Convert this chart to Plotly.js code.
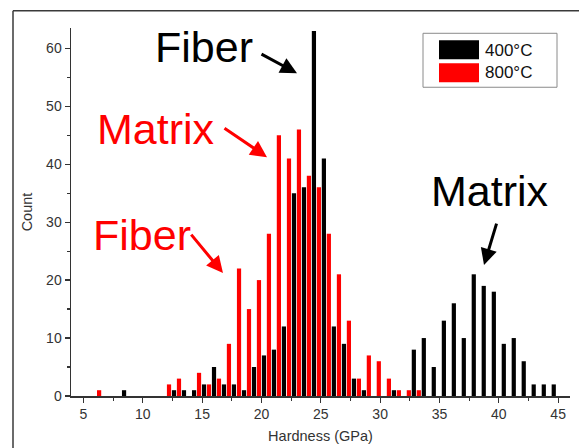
<!DOCTYPE html>
<html>
<head>
<meta charset="utf-8">
<script src="https://cdn.plot.ly/plotly-3.0.1.min.js"></script>
<style>html,body{margin:0;padding:0;background:#fff;}#chart{width:579px;height:448px;}</style>
</head>
<body>
<div id="chart"></div>
<script>
// Bin centres (GPa)
const binCenters = [6.53, 7.37, 8.21, 9.05, 9.90, 10.74, 11.58, 12.42, 13.26, 14.11,
  14.95, 15.79, 16.63, 17.47, 18.32, 19.16, 20.00, 20.84, 21.68, 22.53,
  23.37, 24.21, 25.05, 25.89, 26.74, 27.58, 28.42, 29.26, 30.10, 30.95,
  31.79, 32.63, 33.47, 34.31, 35.16, 36.00, 36.84, 37.68, 38.52, 39.37,
  40.21, 41.05, 41.89, 42.73, 43.58, 44.42];
// Counts, 400 °C
const count400 = [0, 0, 1, 0, 0, 0, 0, 1, 1, 1,
  2, 5, 2, 2, 1, 5, 7, 8, 12, 35,
  36, 63, 41, 12, 9, 3, 1, 0, 0, 1,
  0, 8, 10, 5, 13, 16, 10, 21, 19, 18,
  9, 10, 6, 2, 2, 2];
// Counts, 800 °C
const count800 = [1, 0, 0, 0, 0, 0, 0, 2, 3, 0,
  4, 2, 3, 9, 22, 15, 20, 28, 45, 41,
  46, 38, 36, 28, 21, 13, 3, 7, 6, 3,
  1, 1, 1, 0, 0, 0, 0, 0, 0, 0,
  0, 0, 0, 0, 0, 0];
const seriesNames = ['400°C', '800°C'];
const seriesColors = ['#000000', '#ff0000'];
const xTitle = 'Hardness (GPa)';
const yTitle = 'Count';
const labels = [
  {text: 'Fiber', color: '#000000'},
  {text: 'Matrix', color: '#ff0000'},
  {text: 'Fiber', color: '#ff0000'},
  {text: 'Matrix', color: '#000000'}
];

const FONT = 'Arial, "Liberation Sans", sans-serif';
const bw = 0.354;

const traces = [
  {type: 'bar', name: seriesNames[1], x: binCenters, y: count800, width: bw, offset: -0.388,
   marker: {color: seriesColors[1], line: {width: 0}}, hoverinfo: 'x+y'},
  {type: 'bar', name: seriesNames[0], x: binCenters, y: count400, width: bw, offset: 0.034,
   marker: {color: seriesColors[0], line: {width: 0}}, hoverinfo: 'x+y'}
];

function px2x(px) { return 3.95 + (px - 71) * 42.05 / 499; }
function py2y(py) { return (396 - py) * 63.5 / 368.3; }

const annotations = [
  {x: px2x(204), y: py2y(47), text: labels[0].text, font: {family: FONT, size: 43, color: labels[0].color}},
  {x: px2x(156), y: py2y(129), text: labels[1].text, font: {family: FONT, size: 43, color: labels[1].color}},
  {x: px2x(142), y: py2y(235), text: labels[2].text, font: {family: FONT, size: 43, color: labels[2].color}},
  {x: px2x(490), y: py2y(191), text: labels[3].text, font: {family: FONT, size: 43, color: labels[3].color}},
].map(a => Object.assign({xref: 'x', yref: 'y', showarrow: false, xanchor: 'center', yanchor: 'middle'}, a));

const arrows = [
  {x: px2x(297), y: py2y(73), ax: -37, ay: -20, c: '#000000'},
  {x: px2x(267), y: py2y(157), ax: -44, ay: -30, c: '#ff0000'},
  {x: px2x(223), y: py2y(273), ax: -33, ay: -40, c: '#ff0000'},
  {x: px2x(484), y: py2y(265), ax: 13, ay: -43, c: '#000000'}
];
arrows.forEach(a => annotations.push({
  xref: 'x', yref: 'y', x: a.x, y: a.y, ax: a.ax, ay: a.ay, text: '',
  showarrow: true, arrowhead: 2, arrowsize: 1.1, arrowwidth: 3, arrowcolor: a.c, standoff: 0
}));

function pxp(px) { return (px - 71) / 499; }
function pyp(py) { return (396 - py) / 368.3; }
annotations.push({xref: 'paper', yref: 'paper', x: pxp(483), y: pyp(50), xanchor: 'left', yanchor: 'middle',
  text: seriesNames[0], showarrow: false, font: {family: FONT, size: 17, color: '#111'}});
annotations.push({xref: 'paper', yref: 'paper', x: pxp(483), y: pyp(72), xanchor: 'left', yanchor: 'middle',
  text: seriesNames[1], showarrow: false, font: {family: FONT, size: 17, color: '#111'}});

const shapes = [
  {type: 'rect', xref: 'paper', yref: 'paper', x0: pxp(423), x1: pxp(557), y0: pyp(87), y1: pyp(33),
   line: {color: '#8a8a8a', width: 1}, fillcolor: 'rgba(255,255,255,1)', layer: 'above'},
  {type: 'rect', xref: 'paper', yref: 'paper', x0: pxp(439), x1: pxp(479), y0: pyp(59), y1: pyp(40),
   line: {width: 0}, fillcolor: seriesColors[0], layer: 'above'},
  {type: 'rect', xref: 'paper', yref: 'paper', x0: pxp(439), x1: pxp(479), y0: pyp(82), y1: pyp(63),
   line: {width: 0}, fillcolor: seriesColors[1], layer: 'above'},
  {type: 'line', xref: 'paper', yref: 'paper', x0: pxp(13), x1: pxp(600), y0: pyp(10.5), y1: pyp(10.5),
   line: {color: '#3a3a3a', width: 1.5}},
  {type: 'line', xref: 'paper', yref: 'paper', x0: pxp(13), x1: pxp(13), y0: pyp(10.5), y1: pyp(470),
   line: {color: '#3a3a3a', width: 1.5}}
];

const layout = {
  width: 579, height: 448,
  margin: {l: 71, r: 9, t: 28, b: 52, pad: 0},
  paper_bgcolor: '#ffffff', plot_bgcolor: '#ffffff',
  barmode: 'overlay',
  showlegend: false,
  font: {family: FONT, size: 14, color: '#333'},
  xaxis: {
    range: [3.95, 46], tickmode: 'linear', tick0: 5, dtick: 5,
    ticks: 'outside', ticklen: 5, tickwidth: 1.2, tickcolor: '#333',
    minor: {ticks: 'outside', dtick: 2.5, tick0: 2.5, ticklen: 3, tickwidth: 1.2, tickcolor: '#333', showgrid: false},
    showline: true, linecolor: '#333', linewidth: 1.5, showgrid: false, zeroline: false,
    tickfont: {family: FONT, size: 14, color: '#333'},
    title: {text: xTitle, font: {family: FONT, size: 14.5, color: '#333'}, standoff: 9}
  },
  yaxis: {
    range: [0, 63.5], tickmode: 'linear', tick0: 0, dtick: 10,
    ticks: 'outside', ticklen: 5, tickwidth: 1.2, tickcolor: '#333',
    minor: {ticks: 'outside', dtick: 5, tick0: 0, ticklen: 3, tickwidth: 1.2, tickcolor: '#333', showgrid: false},
    showline: true, linecolor: '#333', linewidth: 1.5, showgrid: false, zeroline: false,
    tickfont: {family: FONT, size: 14, color: '#333'},
    title: {text: yTitle, font: {family: FONT, size: 14.5, color: '#333'}, standoff: 10}
  },
  annotations: annotations,
  shapes: shapes
};

Plotly.newPlot('chart', traces, layout, {staticPlot: true, displayModeBar: false});
</script>
</body>
</html>
